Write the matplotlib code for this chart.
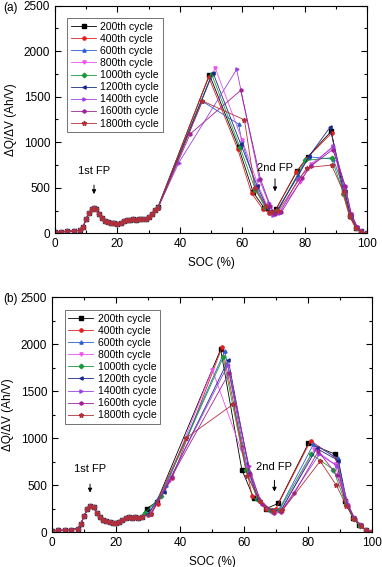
import numpy as np
import matplotlib.pyplot as plt
from matplotlib.ticker import MultipleLocator

plt.rcParams['font.family'] = ['Liberation Sans', 'DejaVu Sans']
plt.rcParams['font.size'] = 8.5

labels = ['200th cycle', '400th cycle', '600th cycle', '800th cycle', '1000th cycle',
          '1200th cycle', '1400th cycle', '1600th cycle', '1800th cycle']
colors = ['#000000', '#e02020', '#2a5fd0', '#f050f0', '#1a9a3a',
          '#1a2a8a', '#a040e0', '#a0209a', '#b0303a']
markers = ['s', 'o', '^', 'v', 'D', '<', '>', 'h', '*']

# shared low-SOC part (panel a)
low_soc_a = [0, 2, 4, 6, 8, 9, 10, 11, 12, 12.6, 13, 14, 15, 16, 17, 18, 19, 20,
             21, 22, 23, 24, 25, 26, 27, 28, 29, 30, 31, 32]
low_dqdv_a = [15, 18, 22, 26, 35, 70, 160, 225, 265, 275, 262, 215, 170, 140, 122, 112, 108, 103,
              112, 132, 148, 145, 152, 150, 156, 152, 160, 175, 210, 255]

# per-cycle part above 32 % SOC (panel a)
soc_a = [
    [33, 49.5, 58.8, 63.5, 67.0, 69.0, 70.8, 77.5, 81.0, 88.5, 92.5, 94.5, 96.5, 98, 100],
    [33, 49.2, 58.5, 63.0, 66.5, 68.5, 70.5, 77.2, 80.5, 88.6, 92.3, 94.4, 96.4, 98, 100],
    [33, 47.2, 58.8, 59.8, 64.5, 67.5, 69.2, 71.0, 78.0, 81.3, 89.2, 92.8, 94.7, 96.7, 98, 100],
    [33, 51.3, 60.0, 65.2, 68.0, 69.8, 71.5, 78.5, 82.0, 89.0, 93.0, 94.8, 96.8, 98, 100],
    [33, 50.2, 59.2, 64.2, 67.3, 69.5, 71.2, 80.2, 88.6, 92.5, 94.6, 96.6, 98, 100],
    [33, 50.6, 59.5, 64.8, 68.0, 69.5, 71.0, 81.5, 88.1, 92.8, 94.7, 96.7, 98, 100],
    [33, 39.7, 58.2, 65.5, 68.5, 70.0, 72.0, 78.0, 82.0, 89.2, 93.0, 94.9, 96.9, 98, 100],
    [33, 43.3, 59.5, 65.8, 69.0, 70.5, 72.5, 79.3, 82.0, 89.0, 93.0, 94.9, 96.9, 98, 100],
    [33, 47.2, 60.7, 64.0, 67.5, 69.3, 71.5, 80.7, 88.6, 92.5, 94.6, 96.6, 98, 100],
]
dqdv_a = [
    [290, 1740, 945, 450, 280, 230, 265, 680, 840, 1120, 450, 190, 60, 20, 0],
    [285, 1720, 930, 440, 270, 225, 240, 670, 820, 1100, 430, 180, 55, 18, 0],
    [280, 1450, 1200, 1020, 500, 300, 235, 245, 640, 840, 814, 460, 190, 60, 20, 0],
    [280, 1820, 1020, 520, 300, 200, 220, 560, 760, 940, 500, 210, 65, 20, 0],
    [285, 1745, 950, 480, 290, 225, 240, 800, 830, 430, 185, 58, 18, 0],
    [285, 1765, 980, 520, 280, 220, 230, 850, 1165, 470, 195, 62, 20, 0],
    [280, 777, 1800, 590, 330, 200, 220, 600, 740, 960, 510, 210, 65, 20, 0],
    [280, 1091, 1570, 600, 300, 210, 230, 610, 740, 920, 520, 215, 66, 20, 0],
    [280, 1454, 1246, 500, 300, 230, 240, 721, 750, 450, 190, 60, 18, 0],
]

# shared low-SOC part (panel b)
low_soc_b = [0, 2, 4, 6, 8, 9, 10, 11, 12, 13, 14, 15, 16, 17, 18, 19, 20,
             21, 22, 23, 24, 25, 26, 27, 28]
low_dqdv_b = [15, 17, 20, 24, 35, 80, 170, 240, 275, 262, 205, 160, 130, 115, 105, 100, 100,
              110, 130, 150, 156, 150, 160, 152, 165]

soc_b = [
    [29.6, 32.7, 52.7, 59.3, 63.0, 67.0, 70.7, 80.1, 88.4, 91.5, 94.0, 96.0, 98, 100],
    [30.0, 33.0, 37.6, 53.2, 59.5, 62.5, 67.0, 70.0, 80.8, 89.0, 91.6, 94.1, 96.1, 98, 100],
    [30.0, 35.5, 54.0, 60.8, 64.0, 68.0, 71.0, 81.7, 89.3, 92.0, 94.2, 96.2, 98, 100],
    [31.0, 36.0, 50.1, 59.0, 64.0, 68.0, 71.5, 82.0, 88.4, 92.0, 94.3, 96.3, 98, 100],
    [29.0, 34.0, 53.5, 60.5, 64.2, 68.0, 71.0, 81.0, 87.9, 91.8, 94.2, 96.2, 98, 100],
    [30.0, 35.0, 55.1, 61.7, 64.5, 68.5, 71.5, 82.7, 89.5, 92.3, 94.4, 96.4, 98, 100],
    [31.0, 36.5, 55.0, 61.5, 65.0, 69.0, 72.0, 83.5, 89.2, 92.5, 94.5, 96.5, 98, 100],
    [31.0, 37.4, 55.4, 62.0, 65.5, 69.5, 71.5, 75.7, 83.2, 89.0, 92.5, 94.6, 96.6, 98, 100],
    [31.0, 41.9, 56.7, 61.0, 65.0, 69.0, 72.0, 83.8, 88.8, 92.0, 94.5, 96.5, 98, 100],
]
dqdv_b = [
    [250, 320, 1944, 665, 365, 250, 305, 943, 830, 330, 150, 70, 25, 5],
    [180, 300, 580, 1972, 900, 380, 240, 250, 971, 780, 340, 150, 72, 25, 5],
    [190, 500, 1929, 720, 360, 230, 240, 935, 784, 300, 145, 70, 24, 5],
    [200, 520, 1727, 883, 380, 220, 220, 880, 720, 320, 150, 72, 25, 5],
    [200, 380, 1859, 665, 356, 230, 230, 830, 665, 300, 140, 68, 22, 5],
    [190, 430, 1830, 630, 350, 230, 230, 890, 760, 290, 145, 70, 24, 5],
    [190, 540, 1780, 700, 340, 210, 240, 826, 700, 300, 148, 72, 25, 5],
    [190, 590, 1696, 620, 300, 200, 210, 411, 860, 606, 280, 140, 70, 24, 5],
    [190, 1000, 1362, 600, 330, 220, 230, 755, 500, 280, 140, 68, 22, 5],
]


def draw_panel(ax, low_soc, low_dqdv, soc, dqdv, fp1, fp2):
    for i in range(len(labels)):
        x = low_soc + soc[i]
        y = low_dqdv + dqdv[i]
        ms = 3.5 if markers[i] == '*' else 2.3
        ax.plot(x, y, color=colors[i], marker=markers[i], markersize=ms, lw=0.6,
                label=labels[i])

    ax.set_xlim(0, 100)
    ax.set_ylim(0, 2500)
    ax.xaxis.set_major_locator(MultipleLocator(20))
    ax.xaxis.set_minor_locator(MultipleLocator(10))
    ax.yaxis.set_major_locator(MultipleLocator(500))
    ax.yaxis.set_minor_locator(MultipleLocator(250))
    ax.tick_params(which='both', direction='in', top=True, right=True,
                   labelsize=8.5, width=0.8)
    ax.tick_params(which='major', length=4)
    ax.tick_params(which='minor', length=2.5)
    ax.set_xlabel('SOC (%)', fontsize=8.5, labelpad=5)
    ax.set_ylabel('ΔQ/ΔV (Ah/V)', fontsize=8.5, labelpad=5)

    leg = ax.legend(loc='upper left', bbox_to_anchor=(0.04, 0.945), fontsize=7.5,
                    frameon=True, fancybox=False, edgecolor='#333333',
                    handlelength=2.4, labelspacing=0.2, borderpad=0.35,
                    handletextpad=0.4, borderaxespad=0)
    leg.get_frame().set_linewidth(0.6)

    for (tx, ty, ay0, ay1, txt) in (fp1, fp2):
        ax.annotate('', xy=(tx, ay1), xytext=(tx, ay0),
                    arrowprops=dict(arrowstyle='-|>', color='black', lw=0.7,
                                    mutation_scale=6))
        ax.text(tx, ty, txt, ha='center', va='center', fontsize=8)


fig = plt.figure(figsize=(3.82, 5.67), dpi=100)
ax1 = fig.add_axes([0.144, 0.5885, 0.817, 0.4015])
ax2 = fig.add_axes([0.136, 0.0617, 0.838, 0.4143])

draw_panel(ax1, low_soc_a, low_dqdv_a, soc_a, dqdv_a,
           (12.5, 680, 560, 400, '1st FP'), (70.5, 720, 630, 430, '2nd FP'))
draw_panel(ax2, low_soc_b, low_dqdv_b, soc_b, dqdv_b,
           (11.9, 670, 540, 390, '1st FP'), (69.5, 690, 580, 400, '2nd FP'))

fig.text(3 / 382, 1 - 8 / 567, '(a)', ha='left', va='center', fontsize=8.5)
fig.text(3 / 382, 1 - 299 / 567, '(b)', ha='left', va='center', fontsize=8.5)

fig.savefig('out.png', dpi=100)
